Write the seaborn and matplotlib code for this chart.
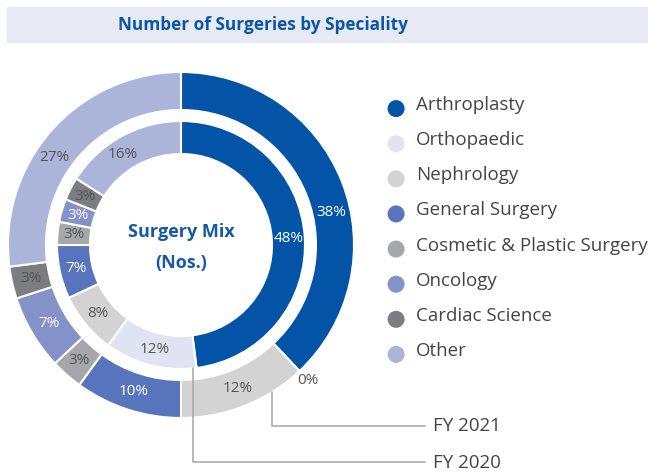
import matplotlib
matplotlib.use("Agg")
import matplotlib.pyplot as plt
import seaborn as sns
import numpy as np
from matplotlib.patches import Rectangle

categories = ["Arthroplasty", "Orthopaedic", "Nephrology", "General Surgery",
              "Cosmetic & Plastic Surgery", "Oncology", "Cardiac Science", "Other"]
fy2021 = [38, 0, 12, 10, 3, 7, 3, 27]
fy2020 = [48, 12, 8, 7, 3, 3, 3, 16]
colors = ["#0354A6", "#DFE3F2", "#D3D3D3", "#5874BC",
          "#A6A7AA", "#8592C9", "#7C7D80", "#ABB5DA"]
light_text = ["Arthroplasty", "General Surgery", "Oncology"]

sns.set_theme(style="white")
plt.rcParams["font.family"] = ["Open Sans", "DejaVu Sans"]

W, H = 648, 472
fig = plt.figure(figsize=(W / 100, H / 100), dpi=100)

# title band
fig.patches.append(Rectangle((7 / W, 1 - 42 / H), 1 - 7 / W, 35 / H,
                             transform=fig.transFigure, color="#E7E9F4", zorder=0))
fig.text(263 / W, 1 - 25 / H, "Number of Surgeries by Speciality", ha="center", va="center",
         fontsize=12.4, fontweight="bold", color="#0B57A4")

# pie axes: centre (181, 245) px, 1 unit = 180 px
cx, cy, s = 181, 245, 180
ax = fig.add_axes([(cx - s) / W, 1 - (cy + s) / H, 2 * s / W, 2 * s / H])

r_out, w_out = 173 / s, 38 / s
r_in, w_in = 124 / s, 33 / s

wedge_kw = dict(edgecolor="white", linewidth=1.5)
outer, _ = ax.pie(fy2021, radius=r_out, colors=colors, startangle=90, counterclock=False,
                  wedgeprops=dict(width=w_out, **wedge_kw))
inner, _ = ax.pie(fy2020, radius=r_in, colors=colors, startangle=90, counterclock=False,
                  wedgeprops=dict(width=w_in, **wedge_kw))
ax.set_xlim(-1, 1)
ax.set_ylim(-1, 1)
ax.set_aspect("equal")
ax.axis("off")

# label angle nudges (degrees) for the big slices, like the original layout
nudge = {("out", "Arthroplasty"): -9.5, ("out", "Other"): 7, ("in", "Other"): 4}


def label_ring(wedges, values, ring):
    for wdg, val, cat in zip(wedges, values, categories):
        ang = np.deg2rad((wdg.theta1 + wdg.theta2) / 2 + nudge.get((ring, cat), 0))
        r = wdg.r - wdg.width / 2
        if val == 0:
            r = wdg.r + 0.07
        col = "white" if cat in light_text and val > 0 else "#555555"
        ax.text(r * np.cos(ang), r * np.sin(ang), f"{val}%", ha="center", va="center",
                fontsize=11, color=col)


label_ring(outer, fy2021, "out")
label_ring(inner, fy2020, "in")

ax.text(0, 0.07, "Surgery Mix", ha="center", va="center", fontsize=13,
        fontweight="bold", color="#1558A6")
ax.text(0, -0.1, "(Nos.)", ha="center", va="center", fontsize=13,
        fontweight="bold", color="#1558A6")

# FY callouts
line_kw = dict(color="#ABABAB", linewidth=1.2, clip_on=False)
x21 = 91 / s
y21 = -np.sqrt(r_out ** 2 - x21 ** 2)
ax.plot([x21, x21, 244 / s], [y21, -181 / s, -181 / s], **line_kw)
ax.text(252 / s, -181 / s, "FY 2021", ha="left", va="center", fontsize=13.5, color="#444444")
x20 = 12 / s
y20 = -np.sqrt(r_in ** 2 - x20 ** 2)
ax.plot([x20, x20, 244 / s], [y20, -217 / s, -217 / s], **line_kw)
ax.text(252 / s, -218 / s, "FY 2020", ha="left", va="center", fontsize=13.5, color="#444444")

# legend, drawn in its own axes: one row per category
lax = fig.add_axes([380 / W, 1 - 379 / H, 268 / W, 295 / H])
rows = np.arange(len(categories))
lax.scatter(np.zeros(len(categories)) + 0.06, rows + 0.1, s=150, c=colors, linewidths=0)
for i, cat in enumerate(categories):
    lax.text(0.135, i, cat, ha="left", va="center", fontsize=13.5, color="#444444",
             clip_on=False)
lax.set_xlim(0, 1)
lax.set_ylim(len(categories) - 0.5 + 0.3, -0.5 - 0.1)
lax.axis("off")

fig.savefig("out.png", dpi=100)
